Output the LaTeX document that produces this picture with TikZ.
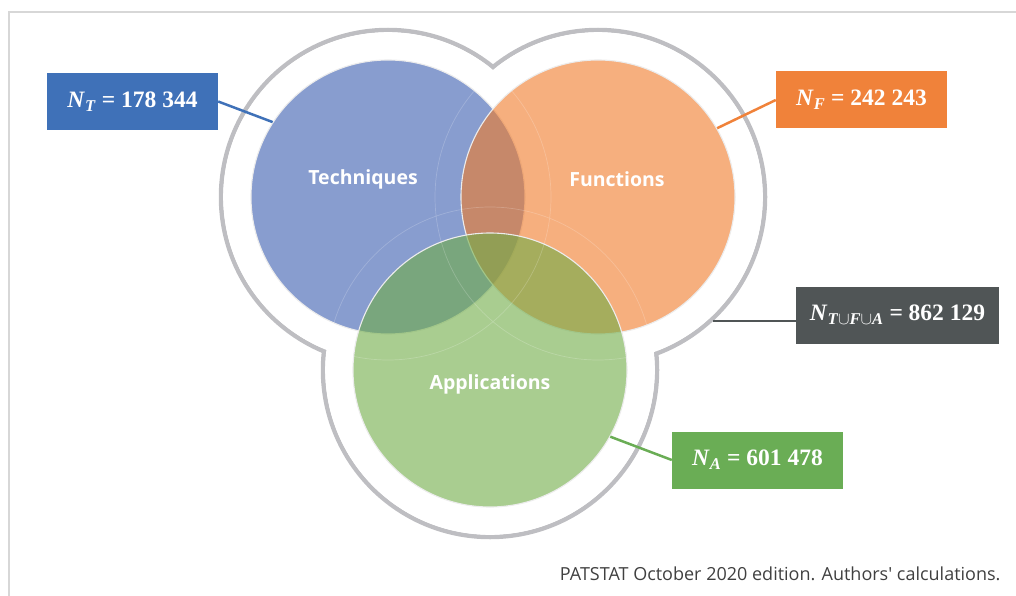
\documentclass[tikz,border=0pt]{standalone}
\usepackage{fontspec}
\setmainfont{Liberation Serif}
\newfontfamily\setfont{Open Sans}
\usetikzlibrary{positioning}

\definecolor{techblue}{RGB}{57,93,175}
\definecolor{funcorange}{RGB}{240,122,40}
\definecolor{appgreen}{RGB}{112,173,71}
\definecolor{boxblue}{RGB}{63,113,184}
\definecolor{boxorange}{RGB}{240,130,58}
\definecolor{boxgreen}{RGB}{106,173,85}
\definecolor{boxgray}{RGB}{80,85,86}
\definecolor{ringgray}{RGB}{190,190,194}
\definecolor{framegray}{RGB}{215,215,215}

\newcommand{\nsub}[1]{\textit{N}\textsubscript{\textit{#1}}}

\begin{document}
\begin{tikzpicture}[x=1pt, y=-1pt,
    setcircle/.style={circle, inner sep=0pt, minimum size=274pt, fill opacity=0.6, draw=white!85!gray, line width=1.1pt},
    ringcircle/.style={circle, inner sep=0pt, minimum size=334pt},
    setlabel/.style={text=white, font=\setfont\bfseries\fontsize{19.5}{22}\selectfont},
    countbox/.style={text=white, minimum width=171pt, minimum height=57pt, inner sep=0pt, font=\bfseries\fontsize{23.5}{26}\selectfont},
    link/.style={line width=2.5pt}]
        \useasboundingbox (0,0) rectangle (1016,596);

        % Frame
        \draw[framegray, line width=1.2pt] (9,596) -- (9,12) -- (1016,12);

        % Outer ring
        \node (To) [ringcircle, draw=ringgray, line width=4.5pt] at (388,197) {};
        \node (Fo) [ringcircle, draw=ringgray, line width=4.5pt] at (598,197) {};
        \node (Ao) [ringcircle, draw=ringgray, line width=4.5pt] at (490,370) {};
        \fill[white] (To.center) circle (164.8pt) (Fo.center) circle (164.8pt) (Ao.center) circle (164.8pt);

        % Sets
        \node (Tc) [setcircle, fill=techblue] at (388,197) {};
        \node (Fc) [setcircle, fill=funcorange] at (598,197) {};
        \node (Ac) [setcircle, fill=appgreen] at (490,370) {};
        \draw[white, opacity=0.2, line width=0.7pt] (To.center) circle (163pt) (Fo.center) circle (163pt) (Ao.center) circle (163pt);

        \node (TcLab) [setlabel] at (363,179) {Techniques};
        \node (FcLab) [setlabel] at (617,179) {Functions};
        \node (AcLab) [setlabel] at (490,384) {Applications};

        % Counts
        \node (boxT) [countbox, fill=boxblue] at (132.5,101.5) {\nsub{T} = 178 344};
        \node (boxF) [countbox, fill=boxorange] at (861.5,100) {\nsub{F} = 242 243};
        \node (boxU) [countbox, fill=boxgray, minimum width=203pt] at (897.5,315) {\textit{N}\textsubscript{\textit{T}$\cup$\textit{F}$\cup$\textit{A}} = 862 129};
        \node (boxA) [countbox, fill=boxgreen] at (757.5,460) {\nsub{A} = 601 478};

        \draw[link, boxblue] (boxT.east) -- (Tc.147.5);
        \draw[link, boxorange] (boxF.west) -- (Fc.30);
        \draw[link, boxgray] (Fo.-47) -- (Fo.-47 -| boxU.west);
        \draw[link, boxgreen] (boxA.west) -- (Ac.-29);

        % Source
        \node (source) [anchor=base east, text=black!75, font=\setfont\fontsize{18}{21}\selectfont] at (1004,580) {PATSTAT October 2020 edition. Authors' calculations.};
\end{tikzpicture}
\end{document}
